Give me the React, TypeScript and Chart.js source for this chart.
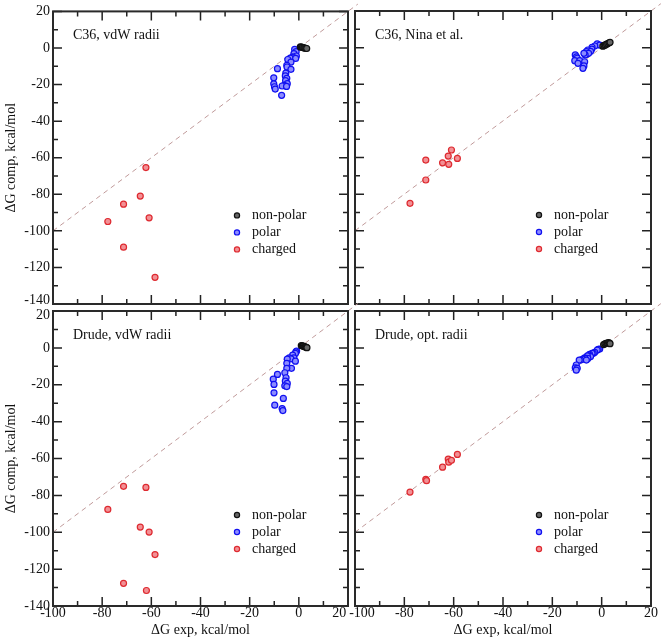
import React, { useEffect, useRef } from 'react';
import { Chart, registerables } from 'chart.js';

Chart.register(...registerables);

const PAGE_W = 663;
const PAGE_H = 643;
const FONT = "'Liberation Serif', 'Times New Roman', serif";

// ---------- data ----------
const seriesNames = ['non-polar', 'polar', 'charged'];
const xAxisTitle = 'ΔG exp, kcal/mol';
const yAxisTitle = 'ΔG comp, kcal/mol';
const panelTitles = ['C36, vdW radii', 'C36, Nina et al.', 'Drude, vdW radii', 'Drude, opt. radii'];
const xTickValues = [-100, -90, -80, -70, -60, -50, -40, -30, -20, -10, 0, 10, 20];
const yTickValues = [20, 10, 0, -10, -20, -30, -40, -50, -60, -70, -80, -90, -100, -110, -120, -130, -140];
const diagonal = [-100, 24];

const c36VdwNonpolar = [[0.6, 0.6], [1.0, 0.5], [1.5, 0.3], [2.0, 0.1], [2.4, 0.0], [2.8, -0.2], [3.2, -0.3]];
const c36VdwPolar = [[-1.7, -0.8], [-1.1, -2.0], [-2.0, -3.1], [-1.0, -4.4], [-2.5, -4.8], [-2.6, -5.3], [-3.5, -5.6], [-4.5, -6.3], [-1.3, -5.7], [-3.2, -7.7], [-4.9, -9.5], [-4.8, -10.4], [-8.7, -11.3], [-3.2, -11.7], [-5.3, -13.8], [-5.5, -15.3], [-4.9, -16.6], [-10.2, -16.3], [-5.4, -17.8], [-4.7, -19.5], [-6.0, -20.4], [-6.8, -20.8], [-5.0, -21.0], [-10.2, -19.6], [-9.9, -21.2], [-9.6, -22.5], [-7.0, -25.9]];
const c36VdwCharged = [[-77.7, -94.9], [-71.3, -85.4], [-71.3, -108.9], [-64.5, -81.0], [-62.2, -65.4], [-60.9, -92.9], [-58.5, -125.4]];

const c36NinaNonpolar = [[0.5, 0.8], [1.0, 1.2], [1.5, 1.5], [2.0, 1.9], [2.5, 2.2], [3.0, 2.6], [3.4, 2.9]];
const c36NinaPolar = [[-1.8, 2.0], [-0.8, 1.4], [-2.8, 0.9], [-3.9, 0.2], [-4.0, -0.8], [-5.6, -1.3], [-4.5, -2.0], [-6.2, -2.2], [-6.0, -3.5], [-5.3, -3.1], [-6.7, -4.0], [-7.2, -3.1], [-10.7, -4.0], [-10.2, -5.0], [-9.9, -5.8], [-10.9, -7.1], [-8.9, -7.1], [-9.6, -8.6], [-6.9, -7.7], [-7.2, -10.0], [-7.6, -11.3]];
const c36NinaCharged = [[-77.7, -85.0], [-71.3, -61.4], [-71.3, -72.3], [-64.5, -62.9], [-62.2, -59.2], [-62.0, -63.7], [-60.9, -55.9], [-58.5, -60.5]];

const drudeVdwNonpolar = [[1.0, 1.3], [1.4, 1.1], [1.8, 0.9], [2.2, 0.7], [2.6, 0.5], [3.0, 0.3], [3.3, 0.1]];
const drudeVdwPolar = [[-0.9, -1.7], [-1.2, -2.2], [-1.4, -3.0], [-2.5, -3.9], [-2.0, -5.4], [-3.9, -5.4], [-3.2, -6.0], [-4.7, -6.1], [-1.4, -7.2], [-4.9, -8.4], [-3.0, -11.1], [-4.9, -11.1], [-5.7, -13.5], [-8.7, -14.4], [-5.2, -16.2], [-10.4, -17.0], [-5.5, -18.0], [-4.7, -19.3], [-10.1, -19.8], [-5.7, -20.6], [-4.9, -21.0], [-10.1, -24.4], [-6.3, -27.4], [-9.8, -31.1], [-6.8, -32.9], [-6.5, -34.0]];
const drudeVdwCharged = [[-77.7, -87.6], [-71.3, -75.1], [-71.3, -127.7], [-64.5, -97.2], [-62.2, -75.7], [-62.0, -131.6], [-60.9, -99.9], [-58.5, -112.1]];

const drudeOptNonpolar = [[0.8, 1.8], [1.3, 2.2], [1.8, 2.5], [2.3, 2.6], [2.8, 2.8], [3.2, 2.6], [3.4, 2.3]];
const drudeOptPolar = [[-0.8, -0.6], [-1.4, -0.8], [-1.8, -1.2], [-2.8, -2.4], [-3.4, -2.9], [-3.9, -3.0], [-4.9, -3.5], [-5.0, -4.0], [-4.5, -4.7], [-5.8, -4.3], [-6.9, -5.4], [-5.6, -5.7], [-6.8, -5.7], [-7.6, -6.1], [-8.5, -6.6], [-6.2, -6.6], [-9.1, -6.6], [-10.3, -9.3], [-10.7, -10.8], [-9.9, -11.1], [-10.3, -12.1]];
const drudeOptCharged = [[-77.7, -78.2], [-71.3, -71.3], [-71.0, -72.0], [-64.5, -64.7], [-62.2, -60.3], [-62.0, -62.0], [-60.9, -61.0], [-58.5, -57.8]];

// ---------- styles ----------
const POINT_STYLES = [
  { border: '#111111', fill: '#666666' },
  { border: '#1010f0', fill: '#8c8cff' },
  { border: '#de2a30', fill: '#f29095' },
];

type Pair = number[];
interface Panel {
  title: string;
  sets: Pair[][];
  area: { left: number; top: number; right: number; bottom: number };
  showX: boolean;
  showY: boolean;
  yUp?: number;
  yDown?: number;
  xLeftShift?: number;
  xRightShift?: number;
}

const panels: Panel[] = [
  { title: panelTitles[0], sets: [c36VdwNonpolar, c36VdwPolar, c36VdwCharged], area: { left: 53, top: 11, right: 348, bottom: 304 }, showX: false, showY: true, yUp: -140 },
  { title: panelTitles[1], sets: [c36NinaNonpolar, c36NinaPolar, c36NinaCharged], area: { left: 355, top: 11, right: 651, bottom: 304 }, showX: false, showY: false },
  { title: panelTitles[2], sets: [drudeVdwNonpolar, drudeVdwPolar, drudeVdwCharged], area: { left: 53, top: 311, right: 348, bottom: 606 }, showX: true, showY: true, yDown: 20, xLeftShift: 20 },
  { title: panelTitles[3], sets: [drudeOptNonpolar, drudeOptPolar, drudeOptCharged], area: { left: 355, top: 311, right: 651, bottom: 606 }, showX: true, showY: false, xRightShift: -100 },
];

const Y_AXIS_W = 53;
const X_AXIS_H = 37;

const decorPlugin = {
  id: 'panelDecor',
  afterDraw(chart: any, _args: any, opts: any) {
    const { ctx, chartArea: a } = chart;
    const xs = chart.scales.x;
    const ys = chart.scales.y;
    ctx.save();
    // tick marks (inward, on all four sides)
    ctx.strokeStyle = '#222';
    ctx.lineWidth = 1.5;
    ctx.beginPath();
    xTickValues.forEach((v) => {
      const px = xs.getPixelForValue(v);
      const len = v % 20 === 0 ? 9 : 5;
      ctx.moveTo(px, a.bottom);
      ctx.lineTo(px, a.bottom - len);
      ctx.moveTo(px, a.top);
      ctx.lineTo(px, a.top + len);
    });
    yTickValues.forEach((v) => {
      const py = ys.getPixelForValue(v);
      const len = v % 20 === 0 ? 9 : 5;
      ctx.moveTo(a.left, py);
      ctx.lineTo(a.left + len, py);
      ctx.moveTo(a.right, py);
      ctx.lineTo(a.right - len, py);
    });
    ctx.stroke();
    // frame
    ctx.lineWidth = 2;
    ctx.strokeStyle = '#2a2a2a';
    ctx.strokeRect(a.left, a.top, a.right - a.left, a.bottom - a.top);
    // panel label
    ctx.fillStyle = '#111';
    ctx.font = `14px ${FONT}`;
    ctx.textBaseline = 'middle';
    ctx.textAlign = 'left';
    ctx.fillText(opts.label, a.left + 20, a.top + 24);
    // legend
    chart.data.datasets.slice(0, 3).forEach((ds: any, i: number) => {
      const cy = a.top + 204 + i * 17;
      const cx = a.left + 184;
      ctx.beginPath();
      ctx.arc(cx, cy, 2.6, 0, Math.PI * 2);
      ctx.fillStyle = ds.pointBackgroundColor;
      ctx.fill();
      ctx.lineWidth = 1.2;
      ctx.strokeStyle = ds.pointBorderColor;
      ctx.stroke();
      ctx.fillStyle = '#111';
      ctx.fillText(ds.label, cx + 15, cy);
    });
    ctx.restore();
  },
};

function buildChart(canvas: HTMLCanvasElement, p: Panel) {
  const datasets: any[] = p.sets.map((set, i) => ({
    label: seriesNames[i],
    data: set.map(([x, y]) => ({ x, y })),
    pointRadius: 3,
    pointBorderWidth: 1.2,
    pointBackgroundColor: POINT_STYLES[i].fill,
    pointBorderColor: POINT_STYLES[i].border,
    backgroundColor: POINT_STYLES[i].fill,
    borderColor: POINT_STYLES[i].border,
    showLine: false,
    order: 1,
  }));
  datasets.push({
    type: 'line',
    label: 'y = x',
    data: diagonal.map((v) => ({ x: v, y: v })),
    borderColor: '#c09a9a',
    borderWidth: 1,
    borderDash: [5, 4],
    pointRadius: 0,
    fill: false,
    clip: false,
    order: 10,
  });

  const tickFont = (c: any) => {
    const v = c && c.tick ? c.tick.value : undefined;
    if (v !== undefined && (v === p.yUp || v === p.yDown)) {
      return { family: FONT, size: 14, lineHeight: v === p.yUp ? '8px' : '9px' };
    }
    return { family: FONT, size: 14, lineHeight: 1.2 };
  };

  return new Chart(canvas, {
    type: 'scatter',
    data: { datasets },
    options: {
      responsive: false,
      animation: false,
      events: [],
      layout: {
        padding: {
          left: p.area.left - (p.showY ? Y_AXIS_W : 0),
          top: p.area.top,
          right: PAGE_W - p.area.right,
          bottom: PAGE_H - p.area.bottom - (p.showX ? X_AXIS_H : 0),
        },
      },
      plugins: {
        legend: { display: false },
        tooltip: { enabled: false },
        panelDecor: { label: p.title },
      } as any,
      scales: {
        x: {
          type: 'linear',
          position: 'bottom',
          min: -100,
          max: 20,
          grid: { display: false, drawTicks: false },
          border: { display: false },
          ticks: {
            display: p.showX,
            stepSize: 20,
            autoSkip: false,
            maxRotation: 0,
            minRotation: 0,
            padding: -1,
            color: '#111',
            font: { family: FONT, size: 14 },
            callback: (v: any) => {
              const s = String(v);
              if (v === p.xLeftShift) return s + '     ';
              if (v === p.xRightShift) return '    ' + s;
              return s;
            },
          },
          title: {
            display: p.showX,
            text: xAxisTitle,
            color: '#111',
            font: { family: FONT, size: 14 },
            padding: { top: 0, bottom: 4.5 },
          },
          afterFit: (s: any) => {
            s.height = p.showX ? X_AXIS_H : 0;
          },
        },
        y: {
          type: 'linear',
          position: 'left',
          min: -140,
          max: 20,
          grid: { display: false, drawTicks: false },
          border: { display: false },
          ticks: {
            display: p.showY,
            stepSize: 20,
            autoSkip: false,
            padding: 3,
            color: '#111',
            font: tickFont as any,
            callback: (v: any) => {
              const s = String(v);
              if (v === p.yUp) return [s, ''];
              if (v === p.yDown) return ['', s];
              return s;
            },
          },
          title: {
            display: p.showY,
            text: yAxisTitle,
            color: '#111',
            font: { family: FONT, size: 14 },
            padding: { top: 3.3, bottom: 0 },
          },
          afterFit: (s: any) => {
            s.width = p.showY ? Y_AXIS_W : 0;
          },
        },
      } as any,
    },
    plugins: [decorPlugin as any],
  } as any);
}

function PanelCanvas({ panel }: { panel: Panel }) {
  const ref = useRef<HTMLCanvasElement | null>(null);
  useEffect(() => {
    if (!ref.current) return;
    const chart = buildChart(ref.current, panel);
    return () => chart.destroy();
  }, [panel]);
  return (
    <canvas
      ref={ref}
      width={PAGE_W}
      height={PAGE_H}
      style={{ position: 'absolute', left: 0, top: 0, width: PAGE_W, height: PAGE_H, pointerEvents: 'none' }}
    />
  );
}

export default function App() {
  return (
    <div style={{ position: 'absolute', left: 0, top: 0, width: PAGE_W, height: PAGE_H, background: '#fff', overflow: 'hidden' }}>
      {panels.map((p, i) => (
        <PanelCanvas key={i} panel={p} />
      ))}
    </div>
  );
}
